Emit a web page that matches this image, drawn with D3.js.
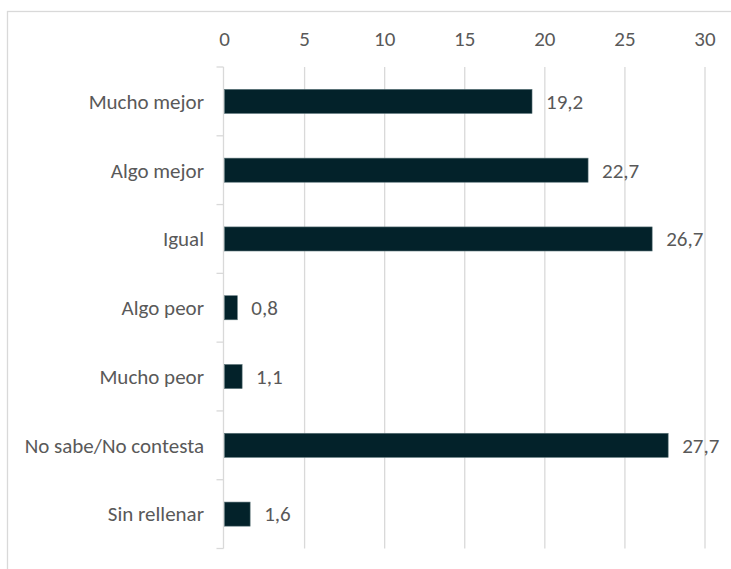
<!DOCTYPE html>
<html>
<head>
<meta charset="utf-8">
<script src="https://cdn.jsdelivr.net/npm/d3@7"></script>
<style>
  html, body { margin: 0; padding: 0; background: #fff; }
  svg { display: block; }
  text { font-family: Carlito, Lato, "Open Sans", sans-serif; fill: #595959; }
</style>
</head>
<body>
<svg id="chart" width="731" height="569"></svg>
<script>
// Respuestas por categoría (%)
const categories = ["Mucho mejor", "Algo mejor", "Igual", "Algo peor", "Mucho peor", "No sabe/No contesta", "Sin rellenar"];
const values = [19.2, 22.7, 26.7, 0.8, 1.1, 27.7, 1.6];
const xTicks = [0, 5, 10, 15, 20, 25, 30];

const svg = d3.select("#chart");
const W = 731, H = 569;
const FS = 21;

// chart frame
svg.append("rect")
  .attr("x", 7.5).attr("y", 11.5)
  .attr("width", W + 10).attr("height", H + 10)
  .attr("fill", "none").attr("stroke", "#d9d9d9").attr("stroke-width", 1.3);

const plot = { left: 224.5, right: 705, top: 67, bottom: 548.5 };

const x = d3.scaleLinear().domain([0, 30]).range([plot.left, plot.right]);
const y = d3.scaleBand().domain(categories).range([plot.top, plot.bottom]).paddingInner(0.65).paddingOuter(0.325);

// vertical gridlines
svg.append("g").selectAll("line")
  .data(xTicks.filter(d => d > 0))
  .join("line")
  .attr("x1", d => x(d)).attr("x2", d => x(d))
  .attr("y1", plot.top).attr("y2", plot.bottom)
  .attr("stroke", "#d9d9d9").attr("stroke-width", 1.3);

// top axis labels
svg.append("g").selectAll("text")
  .data(xTicks)
  .join("text")
  .attr("x", d => x(d)).attr("y", 39)
  .attr("dy", "0.35em")
  .attr("text-anchor", "middle")
  .attr("font-size", FS)
  .text(d => d);

// vertical category axis with boundary ticks
const yAxis = svg.append("g");
yAxis.append("line")
  .attr("x1", plot.left - 1).attr("x2", plot.left - 1)
  .attr("y1", plot.top).attr("y2", plot.bottom)
  .attr("stroke", "#d9d9d9").attr("stroke-width", 1.3);
const step = (plot.bottom - plot.top) / categories.length;
yAxis.selectAll("line.tick")
  .data(d3.range(categories.length + 1))
  .join("line")
  .attr("class", "tick")
  .attr("x1", plot.left - 8).attr("x2", plot.left - 1)
  .attr("y1", i => plot.top + i * step).attr("y2", i => plot.top + i * step)
  .attr("stroke", "#d9d9d9").attr("stroke-width", 1.3);

// category labels
svg.append("g").selectAll("text")
  .data(categories)
  .join("text")
  .attr("x", 204)
  .attr("y", d => y(d) + y.bandwidth() / 2)
  .attr("dy", "0.35em")
  .attr("text-anchor", "end")
  .attr("font-size", FS)
  .text(d => d);

// bars
const data = categories.map((c, i) => ({ c, v: values[i] }));
svg.append("g").selectAll("rect")
  .data(data)
  .join("rect")
  .attr("x", x(0))
  .attr("y", d => y(d.c))
  .attr("width", d => x(d.v) - x(0))
  .attr("height", y.bandwidth())
  .attr("fill", "#03222a")
  .attr("stroke", "#5b7378").attr("stroke-width", 0.6);

// value labels
svg.append("g").selectAll("text")
  .data(data)
  .join("text")
  .attr("x", d => x(d.v) + 14)
  .attr("y", d => y(d.c) + y.bandwidth() / 2)
  .attr("dy", "0.35em")
  .attr("font-size", FS)
  .text(d => d3.format(".1f")(d.v).replace(".", ","));
</script>
</body>
</html>
